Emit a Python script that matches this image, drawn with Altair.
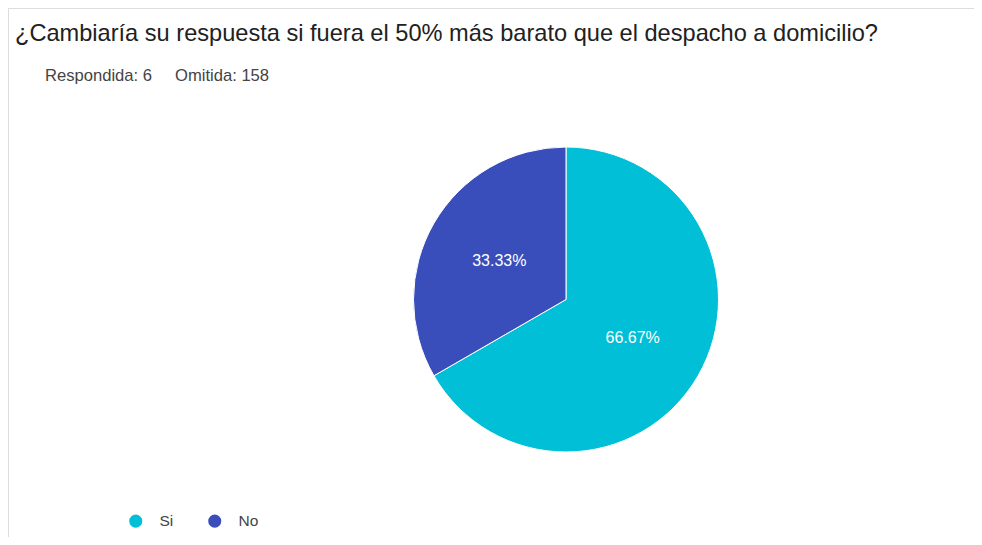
import altair as alt
import pandas as pd

categories = ["Si", "No"]
counts = [4, 2]
colors = ["#00BFD6", "#3A4EBB"]
title_text = ["¿Cambiaría su respuesta si fuera el 50% más barato que el despacho a domicilio?"]
answered = ["Respondida: 6"]
omitted = ["Omitida: 158"]

W, H = 966, 529
CX, CY, R = 558, 291.5, 152.5
FONT = "Arial, Liberation Sans, sans-serif"

df = pd.DataFrame({"cat": categories, "n": counts, "order": list(range(len(categories)))})

pie = alt.Chart(df).mark_arc(outerRadius=R, stroke="white", strokeWidth=1).encode(
    theta=alt.Theta("n:Q", stack=True),
    order=alt.Order("order:Q"),
    color=alt.Color(
        "cat:N",
        scale=alt.Scale(domain=categories, range=colors),
        legend=alt.Legend(
            title=None, orient="none", legendX=120, legendY=505, direction="horizontal",
            symbolType="circle", symbolSize=170, symbolStrokeWidth=0, symbolOpacity=1,
            labelFontSize=15.5, labelColor="#444444", labelFont=FONT,
            labelOffset=16, columnPadding=33,
        ),
    ),
    x=alt.value(CX), y=alt.value(CY),
)

labels = alt.Chart(df).transform_joinaggregate(total="sum(n)").transform_calculate(
    pct="format(datum.n / datum.total, '.2%')"
).mark_text(radius=77, fontSize=16, color="white", font=FONT, baseline="middle").encode(
    theta=alt.Theta("n:Q", stack=True),
    order=alt.Order("order:Q"),
    text="pct:N",
    x=alt.value(CX), y=alt.value(CY),
)

title = alt.Chart(pd.DataFrame({"t": title_text})).mark_text(
    align="left", baseline="alphabetic", fontSize=23.6, color="#212121", font=FONT
).encode(text="t:N", x=alt.value(7), y=alt.value(33))

sub1 = alt.Chart(pd.DataFrame({"t": answered})).mark_text(
    align="left", baseline="alphabetic", fontSize=16.6, color="#444444", font=FONT
).encode(text="t:N", x=alt.value(37), y=alt.value(73))

sub2 = alt.Chart(pd.DataFrame({"t": omitted})).mark_text(
    align="left", baseline="alphabetic", fontSize=16.6, color="#444444", font=FONT
).encode(text="t:N", x=alt.value(167), y=alt.value(73))

left_border = alt.Chart(pd.DataFrame({"a": [0]})).mark_rule(color="#dddddd", strokeWidth=2).encode(
    x=alt.value(0), y=alt.value(0), y2=alt.value(H)
)
top_border = alt.Chart(pd.DataFrame({"a": [0]})).mark_rule(color="#dddddd", strokeWidth=2).encode(
    y=alt.value(0), x=alt.value(0), x2=alt.value(W)
)

chart = alt.layer(left_border, top_border, pie, labels, title, sub1, sub2).properties(
    width=W, height=H, padding=0, autosize=alt.AutoSizeParams(type="none")
).configure_view(stroke=None).configure(background="white")

chart.save("out.html", embed_options={"renderer": "svg", "actions": False})
